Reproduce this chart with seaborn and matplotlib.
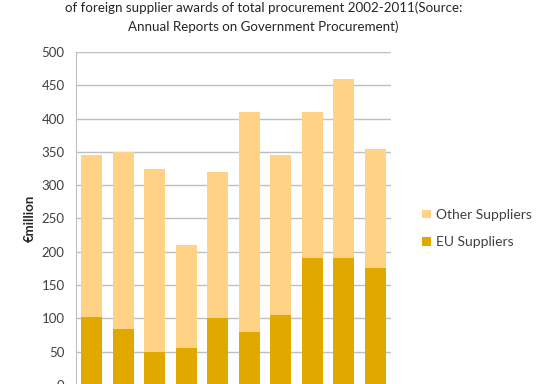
import pandas as pd
import matplotlib.pyplot as plt
import seaborn as sns

# Dane
lata = ["2002", "2003", "2004", "2005", "2006", "2007", "2008", "2009", "2010", "2011"]
razem = [345, 350, 325, 210, 320, 410, 345, 410, 460, 355]
eu = [102, 84, 50, 55, 101, 80, 105, 190, 190, 175]

df = pd.DataFrame({"rok": lata, "razem": razem, "eu": eu})

sns.set_style("white")
plt.rcParams["font.family"] = ["Lato", "DejaVu Sans"]

fig = plt.figure(figsize=(5.38, 3.84), dpi=100)
ax = fig.add_axes([0.141, -0.002, 0.586, 0.866])

sns.barplot(data=df, x="rok", y="razem", color="#FFD286", width=0.67,
            saturation=1, linewidth=0, ax=ax, label="Other Suppliers")
sns.barplot(data=df, x="rok", y="eu", color="#E1A800", width=0.67,
            saturation=1, linewidth=0, ax=ax, label="EU Suppliers")
if ax.get_legend() is not None:
    ax.get_legend().remove()

ax.set_ylim(0, 500)
ax.set_yticks(range(0, 501, 50))
ax.yaxis.grid(True, color="#BFBFBF", linewidth=1)
ax.set_axisbelow(True)
for s in ["top", "right", "bottom"]:
    ax.spines[s].set_visible(False)
ax.spines["left"].set_color("#BFBFBF")
ax.tick_params(axis="y", length=0, labelsize=9.5, labelcolor="#404040", pad=8)
ax.set_xticks([])
ax.set_xlabel("")
ax.set_ylabel("€million", fontsize=9.5, fontweight="bold", color="#262626", labelpad=4)

h, l = ax.get_legend_handles_labels()
fig.legend(h, l, loc="center left", bbox_to_anchor=(0.785, 0.405), frameon=False,
           fontsize=10, handlelength=0.6, handleheight=0.6, labelspacing=1.1,
           handletextpad=0.35, labelcolor="#404040", borderaxespad=0, borderpad=0)

fig.text(0.49, 0.979, "of foreign supplier awards of total procurement 2002-2011(Source:",
         ha="center", va="center", fontsize=9.6, color="#262626")
fig.text(0.49, 0.93, "Annual Reports on Government Procurement)",
         ha="center", va="center", fontsize=9.6, color="#262626")

fig.savefig("out.png", dpi=100)
